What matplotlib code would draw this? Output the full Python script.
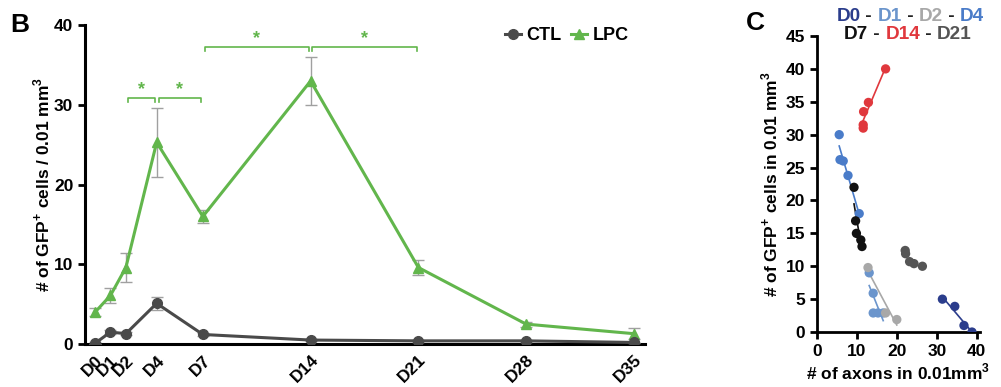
import matplotlib
matplotlib.use("Agg")
import matplotlib.pyplot as plt
from matplotlib.lines import Line2D
import numpy as np

plt.rcParams.update({
    "font.family": ["Liberation Sans", "DejaVu Sans"],
    "font.weight": "bold",
    "axes.labelweight": "bold",
    "mathtext.fontset": "custom",
    "mathtext.rm": "Liberation Sans:bold",
    "mathtext.bf": "Liberation Sans:bold",
})

# ---- panel B data ----
days = [0, 1, 2, 4, 7, 14, 21, 28, 35]
day_labels = ["D0", "D1", "D2", "D4", "D7", "D14", "D21", "D28", "D35"]
ctl_mean = [0.1, 1.5, 1.3, 5.1, 1.2, 0.5, 0.4, 0.4, 0.2]
ctl_err = [0.1, 0.2, 0.2, 0.8, 0.2, 0.1, 0.1, 0.1, 0.1]
lpc_mean = [4.0, 6.1, 9.6, 25.3, 16.0, 33.0, 9.6, 2.5, 1.3]
lpc_err = [0.5, 0.9, 1.8, 4.3, 0.8, 3.0, 1.0, 0.3, 0.7]
brk_from = [2, 4, 7, 14]
brk_to = [4, 7, 14, 21]
brk_y = [30.8, 30.8, 37.2, 37.2]

# ---- panel C data (axons vs GFP+ cells) ----
c_groups = ["D0", "D1", "D2", "D4", "D7", "D14", "D21"]
c_colors = ["#2b3d8c", "#6b95cc", "#a8a8a8", "#4a7cc9", "#111111", "#e0383d", "#555555"]
c_x = {
    "D0": [31.4, 34.5, 36.8, 38.8],
    "D1": [13.1, 14.1, 14.1, 15.3, 16.6],
    "D2": [12.8, 17.2, 20.0],
    "D4": [5.6, 5.8, 6.6, 7.8, 10.6],
    "D7": [9.3, 9.7, 9.9, 11.0, 11.3],
    "D14": [11.6, 11.6, 11.7, 12.9, 17.2],
    "D21": [22.1, 22.2, 23.2, 24.3, 26.4],
}
c_y = {
    "D0": [5.0, 3.9, 1.0, 0.0],
    "D1": [9.0, 5.9, 2.9, 2.9, 2.9],
    "D2": [9.8, 2.9, 1.9],
    "D4": [30.0, 26.2, 26.0, 23.8, 18.0],
    "D7": [22.0, 16.9, 15.0, 14.0, 13.0],
    "D14": [31.0, 31.5, 33.5, 34.9, 40.0],
    "D21": [12.4, 11.9, 10.7, 10.4, 10.0],
}

GREEN = "#62b64c"
DARK = "#4a4a4a"

fig = plt.figure(figsize=(10.01, 3.87), dpi=100)

# ================= panel B =================
ax = fig.add_axes([0.085, 0.111, 0.559, 0.824])
ax.errorbar(days, lpc_mean, yerr=lpc_err, color=GREEN, lw=2.2, marker="^", ms=7,
            ecolor="#a0a0a0", elinewidth=1, capsize=4.5, capthick=1, zorder=3)
ax.errorbar(days, ctl_mean, yerr=ctl_err, color=DARK, lw=2.2, marker="o", ms=7,
            ecolor="#a0a0a0", elinewidth=1, capsize=4.5, capthick=1, zorder=4)

for a, b, h in zip(brk_from, brk_to, brk_y):
    x0, x1 = a + 0.12, b - 0.12
    ax.plot([x0, x0, x1, x1], [h - 0.5, h, h, h - 0.5], color=GREEN, lw=1.2, clip_on=False)
    ax.text((a + b) / 2, h + 0.05, "*", color=GREEN, ha="center", va="bottom", fontsize=13)

ax.set_xlim(-0.65, 35.7)
ax.set_ylim(0, 40)
ax.set_yticks([0, 10, 20, 30, 40])
ax.set_xticks(days)
ax.set_xticklabels(day_labels, rotation=45, ha="right", rotation_mode="anchor")
ax.tick_params(axis="both", labelsize=12.5, width=2, length=5)
ax.tick_params(axis="x", length=0, pad=6)
for s in ["top", "right"]:
    ax.spines[s].set_visible(False)
for s in ["left", "bottom"]:
    ax.spines[s].set_linewidth(2.2)
ax.set_ylabel(r"# of GFP$^{+}$ cells / 0.01 mm$^{3}$", fontsize=12.5, labelpad=1)

handles = [Line2D([], [], color=DARK, lw=2.2, marker="o", ms=7),
           Line2D([], [], color=GREEN, lw=2.2, marker="^", ms=7)]
ax.legend(handles, ["CTL", "LPC"], loc="upper right", bbox_to_anchor=(1.0, 1.045), ncol=2,
          frameon=False, fontsize=13, handlelength=0.9, columnspacing=0.5,
          handletextpad=0.3)

fig.text(0.01, 0.935, "B", fontsize=19, fontweight="bold", va="center")

# ================= panel C =================
axc = fig.add_axes([0.816, 0.142, 0.163, 0.765])
for g, col in zip(c_groups, c_colors):
    xs = np.array(c_x[g])
    ys = np.array(c_y[g])
    if g != "D21":
        k, b0 = np.polyfit(xs, ys, 1)
        xx = np.array([xs.min(), xs.max()])
        axc.plot(xx, k * xx + b0, color=col, lw=1.2, zorder=2)
    axc.scatter(xs, ys, s=45, color=col, zorder=3, edgecolors="none")

axc.set_xlim(0, 40.8)
axc.set_ylim(0, 45)
axc.set_xticks([0, 10, 20, 30, 40])
axc.set_yticks(np.arange(0, 46, 5))
axc.tick_params(axis="both", labelsize=12.5, width=2, length=5)
for s in ["top", "right"]:
    axc.spines[s].set_visible(False)
for s in ["left", "bottom"]:
    axc.spines[s].set_linewidth(2)
axc.set_ylabel(r"# of GFP$^{+}$ cells in 0.01 mm$^{3}$", fontsize=12.5, labelpad=4)
axc.set_xlabel(r"# of axons in 0.01mm$^{3}$", fontsize=12.5, labelpad=2)

fig.text(0.745, 0.94, "C", fontsize=19, fontweight="bold", va="center")


def colored_line(pieces, xc, y, size=13.7):
    """Draw a row of coloured text pieces centred at figure x = xc."""
    renderer = fig.canvas.get_renderer()
    texts = []
    for s, c in pieces:
        t = fig.text(0, y, s, color=c, fontsize=size, fontweight="bold", va="center")
        texts.append(t)
    widths = [t.get_window_extent(renderer).width / fig.bbox.width for t in texts]
    x = xc - sum(widths) / 2
    for t, w in zip(texts, widths):
        t.set_x(x)
        x += w


sep = "#222222"
colored_line([("D0", c_colors[0]), (" - ", sep), ("D1", c_colors[1]), (" - ", sep),
              ("D2", c_colors[2]), (" - ", sep), ("D4", c_colors[3])], 0.909, 0.958)
colored_line([("D7", c_colors[4]), (" - ", sep), ("D14", c_colors[5]), (" - ", sep),
              ("D21", c_colors[6])], 0.907, 0.912)

fig.savefig("out.png", dpi=100)
